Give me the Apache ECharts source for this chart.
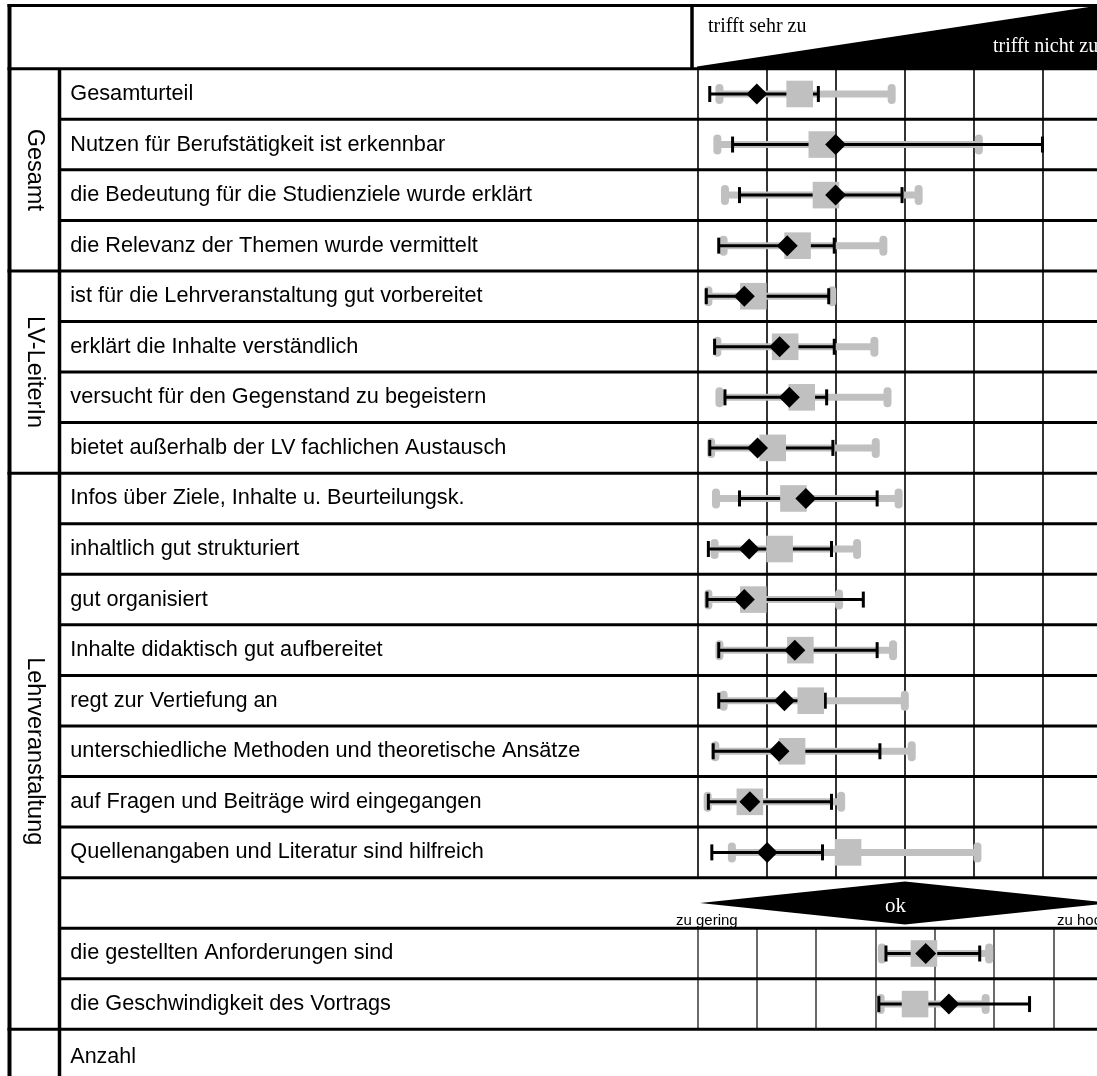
<!DOCTYPE html>
<html>
<head>
<meta charset="utf-8">
<script src="https://cdn.jsdelivr.net/npm/echarts@6/dist/echarts.min.js"></script>
<style>html,body{margin:0;padding:0;background:#fff;}#c{width:1097px;height:1076px;}</style>
</head>
<body>
<div id="c"></div>
<script>
// ---- data (top block: scale 1 = "trifft sehr zu" ... 7 = "trifft nicht zu") ----
const groupNames = ['Gesamt', 'LV-LeiterIn', 'Lehrveranstaltung'];
const topCats = [
  'Gesamturteil',
  'Nutzen für Berufstätigkeit ist erkennbar',
  'die Bedeutung für die Studienziele wurde erklärt',
  'die Relevanz der Themen wurde vermittelt',
  'ist für die Lehrveranstaltung gut vorbereitet',
  'erklärt die Inhalte verständlich',
  'versucht für den Gegenstand zu begeistern',
  'bietet außerhalb der LV fachlichen Austausch',
  'Infos über Ziele, Inhalte u. Beurteilungsk.',
  'inhaltlich gut strukturiert',
  'gut organisiert',
  'Inhalte didaktisch gut aufbereitet',
  'regt zur Vertiefung an',
  'unterschiedliche Methoden und theoretische Ansätze',
  'auf Fragen und Beiträge wird eingegangen',
  'Quellenangaben und Literatur sind hilfreich'
];
const grayLow   = [1.32,1.29,1.40,1.38,1.16,1.29,1.32,1.20,1.27,1.25,1.16,1.32,1.38,1.26,1.15,1.50];
const grayMid   = [2.48,2.80,2.86,2.45,1.81,2.27,2.51,2.09,2.39,2.19,1.81,2.49,2.64,2.37,1.76,3.18];
const grayHigh  = [3.81,5.07,4.20,3.69,2.95,3.56,3.75,3.58,3.91,3.31,3.05,3.83,4.00,4.10,3.08,5.05];
const blackLow  = [1.18,1.51,1.61,1.31,1.13,1.25,1.40,1.18,1.61,1.16,1.14,1.31,1.31,1.23,1.16,1.21];
const blackMean = [1.86,3.00,3.00,2.30,1.68,2.19,2.33,1.87,2.57,1.75,1.68,2.41,2.26,2.18,1.76,2.01];
const blackHigh = [2.75,5.99,3.96,2.98,2.90,2.98,2.87,2.96,3.60,2.94,3.40,3.60,2.85,3.64,2.94,2.81];

// ---- data (bottom block: "zu gering" ... "ok" ... "zu hoch") ----
const botCats = ['die gestellten Anforderungen sind', 'die Geschwindigkeit des Vortrags'];
const botGrayLow   = [3.11, 3.09];
const botGrayMid   = [3.82, 3.67];
const botGrayHigh  = [4.92, 4.86];
const botBlackLow  = [3.18, 3.06];
const botBlackMean = [3.85, 4.24];
const botBlackHigh = [4.76, 5.60];

const headerTexts = ['trifft sehr zu', 'trifft nicht zu'];
const okTexts = ['zu gering', 'ok', 'zu hoch'];
const countLabel = 'Anzahl';

// ---- layout ----
const W = 1097, H = 1076;
const TOP = 68.7, ROW = 50.56;
const PX = 697.3;            // left edge of the plot panel
const TOP_STEP = 69.17;      // px per unit, upper scale
const BOT_STEP = 59.33;      // px per unit, lower scale
const LB = 9.5, GB = 59.5;   // left border, group column border
const GRAY = '#c0c0c0';
const SANS = '"Liberation Sans", Arial, Helvetica, sans-serif';
const SERIF = '"Liberation Serif", "Times New Roman", serif';
const rowY = i => TOP + i * ROW;

function build(lo1, mid1, hi1, lo2, mean2, hi2) {
  return lo1.map((v, i) => [i, v, mid1[i], hi1[i], lo2[i], mean2[i], hi2[i]]);
}

function renderRow(params, api) {
  const c = api.value(0);
  const p = k => api.coord([api.value(k), c]);
  const gl = p(1), gm = p(2), gh = p(3), bl = p(4), bm = p(5), bh = p(6);
  const y = gl[1];
  const pill = x => ({type: 'rect', shape: {x: x - 4, y: y - 10, width: 8, height: 20, r: 4}, style: {fill: GRAY}});
  const cap = x => ({type: 'line', shape: {x1: x, y1: y - 8, x2: x, y2: y + 8}, style: {stroke: '#000', lineWidth: 3}});
  const d = 10.5;
  return {
    type: 'group',
    children: [
      {type: 'line', shape: {x1: gl[0], y1: y, x2: gh[0], y2: y}, style: {stroke: GRAY, lineWidth: 7}},
      pill(gl[0]), pill(gh[0]),
      {type: 'line', shape: {x1: bl[0], y1: y, x2: bh[0], y2: y}, style: {stroke: '#000', lineWidth: 3}},
      cap(bl[0]), cap(bh[0]),
      {type: 'rect', shape: {x: gm[0] - 13.3, y: y - 13.3, width: 26.6, height: 26.6}, style: {fill: GRAY}},
      {type: 'polygon', shape: {points: [[bm[0], y - d], [bm[0] + d, y], [bm[0], y + d], [bm[0] - d, y]]}, style: {fill: '#000'}}
    ]
  };
}

// ---- table frame graphics ----
const g = [];
const hline = (y, x0) => g.push({type: 'line', shape: {x1: x0, y1: y, x2: W + 20, y2: y}, style: {stroke: '#000', lineWidth: 3}, z: 10});
hline(5.5, LB - 2);
const groupStarts = [0, 4, 8, 19];
for (let i = 0; i <= 19; i++) {
  hline(rowY(i), groupStarts.includes(i) ? LB - 2 : GB);
}
g.push({type: 'line', shape: {x1: LB, y1: 4, x2: LB, y2: H}, style: {stroke: '#000', lineWidth: 4}, z: 10});
g.push({type: 'line', shape: {x1: GB, y1: TOP, x2: GB, y2: H}, style: {stroke: '#000', lineWidth: 3.5}, z: 10});
g.push({type: 'line', shape: {x1: 692, y1: 4, x2: 692, y2: TOP}, style: {stroke: '#000', lineWidth: 3.5}, z: 10});
// header wedge
g.push({type: 'polygon', shape: {points: [[697, 66.5], [1112, 3.5], [1112, TOP], [697, TOP]]}, style: {fill: '#000'}, z: 5});
g.push({type: 'text', x: 708, y: 27, style: {text: headerTexts[0], font: '20px ' + SERIF, fill: '#000', verticalAlign: 'middle'}, z: 11});
g.push({type: 'text', x: 993, y: 47, style: {text: headerTexts[1], font: '20px ' + SERIF, fill: '#fff', verticalAlign: 'middle'}, z: 11});
// group labels (rotated)
const groupSpans = [[0, 4], [4, 8], [8, 19]];
groupSpans.forEach((s, k) => {
  g.push({type: 'text', x: (LB + GB) / 2, y: (rowY(s[0]) + rowY(s[1])) / 2, rotation: -Math.PI / 2,
    style: {text: groupNames[k], font: '23.5px ' + SANS, fill: '#000', align: 'center', verticalAlign: 'middle'}, z: 11});
});
// "ok" row
const okMid = (rowY(16) + rowY(17)) / 2;
g.push({type: 'polygon', shape: {points: [[700, okMid], [905, okMid - 21.5], [1112, okMid], [905, okMid + 21.5]]}, style: {fill: '#000'}, z: 5});
g.push({type: 'text', x: 895.5, y: 906, style: {text: okTexts[1], font: '21px ' + SERIF, fill: '#fff', align: 'center', verticalAlign: 'middle'}, z: 11});
g.push({type: 'text', x: 676, y: 921, style: {text: okTexts[0], font: '15px ' + SANS, fill: '#000', verticalAlign: 'middle'}, z: 11});
g.push({type: 'text', x: 1057, y: 921, style: {text: okTexts[2], font: '15px ' + SANS, fill: '#000', verticalAlign: 'middle'}, z: 11});
// Anzahl row label
g.push({type: 'text', x: 70.3, y: rowY(19) + ROW / 2 + 2, style: {text: countLabel, font: '21.5px ' + SANS, fill: '#000', verticalAlign: 'middle'}, z: 11});

const labelStyle = {show: true, interval: 0, margin: PX - 70.3, align: 'left', color: '#000',
  fontFamily: SANS, fontSize: 21.7, padding: [9, 0, 0, 0]};

const chart = echarts.init(document.getElementById('c'), null, {renderer: 'canvas'});
chart.setOption({
  animation: false,
  backgroundColor: '#fff',
  grid: [
    {left: PX, top: TOP, right: 0, height: 16 * ROW, containLabel: false},
    {left: PX, top: rowY(17), right: 0, height: 2 * ROW, containLabel: false}
  ],
  xAxis: [
    {gridIndex: 0, type: 'value', min: 1, max: 1 + (W - PX) / TOP_STEP, interval: 1,
      axisLine: {show: false}, axisTick: {show: false}, axisLabel: {show: false},
      splitLine: {show: true, showMaxLine: false, lineStyle: {color: '#000', width: 1.6}}},
    {gridIndex: 1, type: 'value', min: 0, max: (W - PX) / BOT_STEP, interval: 1,
      axisLine: {show: false}, axisTick: {show: false}, axisLabel: {show: false},
      splitLine: {show: true, showMaxLine: false, lineStyle: {color: '#444', width: 1.6}}}
  ],
  yAxis: [
    {gridIndex: 0, type: 'category', data: topCats, inverse: true,
      axisLine: {show: false}, axisTick: {show: false}, splitLine: {show: false}, axisLabel: labelStyle},
    {gridIndex: 1, type: 'category', data: botCats, inverse: true,
      axisLine: {show: false}, axisTick: {show: false}, splitLine: {show: false}, axisLabel: labelStyle}
  ],
  graphic: g,
  series: [
    {type: 'custom', xAxisIndex: 0, yAxisIndex: 0, renderItem: renderRow, clip: false,
      encode: {x: [1, 2, 3, 4, 5, 6], y: 0},
      data: build(grayLow, grayMid, grayHigh, blackLow, blackMean, blackHigh)},
    {type: 'custom', xAxisIndex: 1, yAxisIndex: 1, renderItem: renderRow, clip: false,
      encode: {x: [1, 2, 3, 4, 5, 6], y: 0},
      data: build(botGrayLow, botGrayMid, botGrayHigh, botBlackLow, botBlackMean, botBlackHigh)}
  ]
});
</script>
</body>
</html>
